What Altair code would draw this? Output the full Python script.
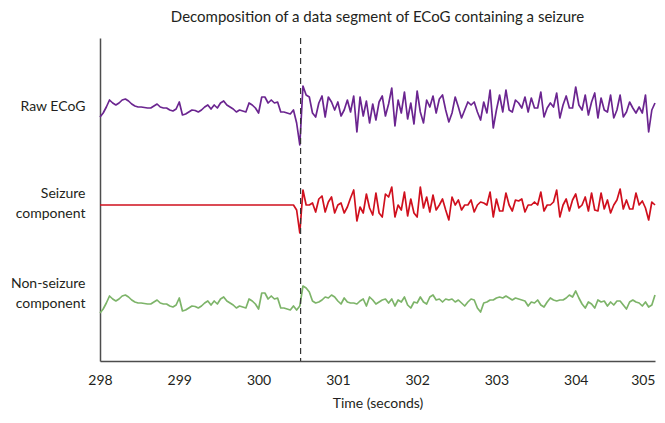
import altair as alt
import pandas as pd

# Sampling grid (seconds), 0.04 s step
time = [round(298 + 0.04 * i, 2) for i in range(176)]

# Amplitudes (arbitrary units, positive = up)
# Before the seizure onset the seizure component is flat, so the raw ECoG
# and the non-seizure component coincide.
pre_onset = [-10, -6, 0, 7, 4, 2, 4, 7, 8, 6, 3, 1, 0, 0, -0.5, -1, -1, 1, 3, 0,
             -1, -1, -3, -4, -2, 5, -8, -7, -5, -3, -3.5, -5, -3, 0, 2, -2, 2, -1, 4, 6,
             2, 0, -2, -5, -3, -4, -5, 4, 2, -1, -6, 10, 10, 4, 7, 4, 5, -5, -5, -6,
             -7, -3]

raw_post = [-16, -38, 21, 12, 10, -6, -10, 4, 11, -10, 10, 5, -3, 5, -9, -3, 7, -5, 11, -25,
            10, -9, 6, -16, 3, -13, 5, 11, -9, 3, 19, -19, 7, -6, 15, -12, 4, -17, 16, -5,
            -16, 7, 0, 11, -6, 8, 12, -3, -15, -6, 10, 0, -11, -3, 5, 2, 5,
            -5, -13, 5, -6, 17, -21, -3, 12, -5, 17, -3, -5, 7, 4, -1, 10, -5, 9, -1, -1,
            15, -10, -1, 4, 0, 14, -11, 2, 11, -1, -1, 20, 2, -3, 12, -8, 5, 14, -11, 9,
            -3, -5, 12, -11, -3, 12, -10, -5, 5, -1, -6, 0, -6, 12, -25, -3, 4]

seizure_post = [-5, -28, 15, 0, 0, 2, -7, 6, 9, -7, 3, 8, -8, 0, 2, -8, -2, 7, 15, -16,
                -2, -8, 11, -3, -10, 12, -8, -12, 11, 8, 18, -12, 0, -5, 13, -11, 6, -8, -12, 18,
                -3, 8, -7, 10, -5, 0, 6, -5, -15, 8, 0, 5, -5, 0, 0,
                5, -7, 0, 3, 2, 0, 13, -12, 6, -6, -6, 12, 0, -6, 5, 4, 6, -7, 0, 0,
                3, 0, 13, -6, 0, 0, 3, 15, -12, 0, 6, -6, 5, 11, -3, 0, 8, -6, 12, -5,
                -6, 12, -4, 5, -8, 0, 5, 16, -4, 5, -4, -4, 12, 0, 4, -3, -15, 3, 0]

nonseizure_post = [-7, -3, 17, 15, 11, 2, 0, 1, 3, 6, 5, 8, 6, 2, -1, 5, 1, 0, 0, -1,
                   2, 4, -3, 6, 3, -1, 1, 3, 4, 0, 4, -3, 3, 1, 6, -2, -5, 1, 0, 6,
                   1, -1, 6, 8, 3, 4, 1, 4, 3, 4, 1, 3, 0, -3, 1, 4, 3,
                   -5, -9, 0, 1, 3, 3, 5, 6, 5, 7, 5, 3, 5, 4, 3, 2, -3, 1, 0, 3,
                   -2, -4, 1, 5, 3, 2, 3, 3, 5, 8, 6, 12, 5, -1, -5, 1, -1, -5, 3, 1,
                   2, -3, 1, -2, 2, 2, -2, -6, 1, 3, 1, 0, -3, 1, -4, -2, 8]

seizure_pre = [0] * len(pre_onset)

series_names = ["Raw ECoG", "Seizure component", "Non-seizure component"]
series_values = [pre_onset + raw_post, seizure_pre + seizure_post, pre_onset + nonseizure_post]
series_colors = ["#6b2590", "#d0101e", "#7db469"]

onset_time = 300.53
x_ticks = [298, 299, 300, 301, 302, 303, 304, 305]

# vertical placement of each trace on the stacked display (layout, not data)
trace_offsets = [254, 156, 58]
label_positions = [255, 168, 78]

rows = []
for name, vals, off in zip(series_names, series_values, trace_offsets):
    for t, v in zip(time, vals):
        rows.append({"t": t, "series": name, "y": off + v})
df = pd.DataFrame(rows)

FONT = "Lato"

lines = alt.Chart(df).mark_line(strokeWidth=1.7, strokeJoin="round").encode(
    x=alt.X("t:Q",
            scale=alt.Scale(domain=[298, 305], nice=False, zero=False),
            axis=alt.Axis(values=x_ticks, format="d", ticks=False, grid=False,
                          labelFlush=False, labelOverlap=False,
                          labelAlign={"condition": {"test": "datum.value >= 305", "value": "right"},
                                      "value": "center"},
                          labelPadding=12, labelFontSize=14, labelFont=FONT,
                          labelColor="#231f20", title="Time (seconds)",
                          titleFont=FONT, titleFontSize=14, titleFontWeight="normal",
                          titleColor="#231f20", titlePadding=9,
                          domainColor="#4d4d4d", domainWidth=1.5)),
    y=alt.Y("y:Q",
            scale=alt.Scale(domain=[0, 323], nice=False, zero=False),
            axis=alt.Axis(values=label_positions, ticks=False, grid=False, title=None,
                          labelExpr="datum.value > 200 ? 'Raw ECoG' : datum.value > 100 ? ['Seizure', 'component'] : ['Non-seizure', 'component']",
                          labelFontSize=14, labelFont=FONT, labelColor="#231f20",
                          labelPadding=15, labelLineHeight=20, labelAlign="right",
                          labelFlush=False, labelOverlap=False,
                          domainColor="#4d4d4d", domainWidth=1.5)),
    color=alt.Color("series:N",
                    scale=alt.Scale(domain=series_names, range=series_colors),
                    legend=None),
    detail="series:N",
)

onset = alt.Chart(pd.DataFrame({"t": [onset_time]})).mark_rule(
    strokeDash=[6, 4], color="#333333", strokeWidth=1.2
).encode(x="t:Q")

chart = alt.layer(lines, onset).properties(
    width=555,
    height=323,
    autosize=alt.AutoSizeParams(type="none"),
    padding={"left": 92, "top": 30, "right": 2, "bottom": 50},
    title=alt.TitleParams(
        "Decomposition of a data segment of ECoG containing a seizure",
        font=FONT, fontSize=15, fontWeight="normal", color="#231f20",
        anchor="middle", offset=12),
).configure_view(stroke=None)

chart.save("out.html", embed_options={"renderer": "svg", "actions": False})
